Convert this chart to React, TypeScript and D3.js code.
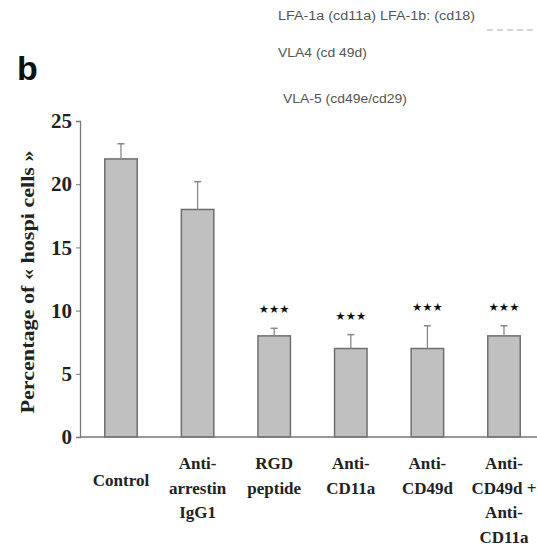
import { useEffect, useRef } from 'react';
import * as d3 from 'd3';

const categories = ['Control', 'Anti-arrestin IgG1', 'RGD peptide', 'Anti-CD11a', 'Anti-CD49d', 'Anti-CD49d + Anti-CD11a'];
const labelLines = [
  ['Control'],
  ['Anti-', 'arrestin', 'IgG1'],
  ['RGD', 'peptide'],
  ['Anti-', 'CD11a'],
  ['Anti-', 'CD49d'],
  ['Anti-', 'CD49d +', 'Anti-', 'CD11a'],
];
const values = [22, 18, 8, 7, 7, 8];
const errors = [1.2, 2.2, 0.6, 1.1, 1.8, 0.8];
const significance = ['', '', '***', '***', '***', '***'];
const yTicks = [0, 5, 10, 15, 20, 25];
const legendNotes = ['LFA-1a (cd11a) LFA-1b: (cd18)', 'VLA4 (cd 49d)', 'VLA-5 (cd49e/cd29)'];

export default function App() {
  const svgRef = useRef<SVGSVGElement>(null);

  useEffect(() => {
    if (!svgRef.current) return;
    const width = 537;
    const height = 549;
    const svg = d3.select(svgRef.current);
    svg.selectAll('*').remove();
    svg.attr('width', width).attr('height', height);

    const serif = '"Liberation Serif", "Times New Roman", serif';
    const sans = '"Liberation Sans", Arial, sans-serif';

    const x = d3
      .scaleBand<string>()
      .domain(categories)
      .range([82.7, 542.3])
      .paddingInner(0.576)
      .paddingOuter(0.288);

    const y = d3.scaleLinear().domain([0, 25]).range([437, 121]);

    // panel letter and notes at top
    svg.append('text')
      .attr('x', 17)
      .attr('y', 80)
      .attr('font-family', sans)
      .attr('font-weight', 'bold')
      .attr('font-size', 34)
      .attr('fill', '#111')
      .text('b');

    const noteX = [278, 278, 283];
    const noteY = [20, 57, 103];
    const noteW = [197, 89, 124];
    legendNotes.forEach((t, i) => {
      svg.append('text')
        .attr('x', noteX[i])
        .attr('y', noteY[i])
        .attr('font-family', sans)
        .attr('font-size', 12.5)
        .attr('fill', '#555')
        .attr('textLength', noteW[i])
        .attr('lengthAdjust', 'spacingAndGlyphs')
        .text(t);
    });

    svg.append('line')
      .attr('x1', 487).attr('x2', 533)
      .attr('y1', 30).attr('y2', 30)
      .attr('stroke', '#aaa')
      .attr('stroke-dasharray', '6,4');

    const g = svg.append('g');

    // bars
    g.selectAll('rect.bar')
      .data(categories)
      .join('rect')
      .attr('class', 'bar')
      .attr('x', (d) => x(d)!)
      .attr('width', x.bandwidth())
      .attr('y', (_, i) => y(values[i]))
      .attr('height', (_, i) => y(0) - y(values[i]))
      .attr('fill', '#c0c0c0')
      .attr('stroke', '#6e6e6e')
      .attr('stroke-width', 1.5);

    // error bars
    categories.forEach((c, i) => {
      const cx = x(c)! + x.bandwidth() / 2;
      const top = y(values[i] + errors[i]);
      g.append('line')
        .attr('x1', cx).attr('x2', cx)
        .attr('y1', y(values[i])).attr('y2', top)
        .attr('stroke', '#888')
        .attr('stroke-width', 1.3);
      g.append('line')
        .attr('x1', cx - 3.5).attr('x2', cx + 3.5)
        .attr('y1', top).attr('y2', top)
        .attr('stroke', '#888')
        .attr('stroke-width', 1.5);
      if (significance[i]) {
        g.append('text')
          .attr('x', cx)
          .attr('y', top - 15)
          .attr('text-anchor', 'middle')
          .attr('font-family', '"DejaVu Sans", sans-serif')
          .attr('font-size', 11.5)
          .attr('fill', '#111')
          .text(significance[i].replace(/\*/g, '\u2605'));
      }
    });

    // axes
    const yAxis = g.append('g')
      .attr('transform', 'translate(80,0)')
      .call(d3.axisLeft(y).tickValues(yTicks).tickSize(4).tickPadding(4));
    yAxis.select('.domain').attr('stroke', '#777').attr('stroke-width', 1.3);
    yAxis.selectAll('.tick line').attr('stroke', '#777');
    yAxis.selectAll('text')
      .attr('font-family', serif)
      .attr('font-weight', 'bold')
      .attr('font-size', 21)
      .attr('fill', '#222');

    g.append('line')
      .attr('x1', 80).attr('x2', 537)
      .attr('y1', y(0)).attr('y2', y(0))
      .attr('stroke', '#777')
      .attr('stroke-width', 1.3);

    // category labels
    categories.forEach((c, i) => {
      const cx = x(c)! + x.bandwidth() / 2;
      const lines = labelLines[i];
      const t = g.append('text')
        .attr('text-anchor', 'middle')
        .attr('font-family', serif)
        .attr('font-weight', 'bold')
        .attr('font-size', 17)
        .attr('fill', '#222');
      const y0 = lines.length === 1 ? 486 : 469;
      lines.forEach((l, j) => {
        t.append('tspan')
          .attr('x', cx)
          .attr('y', y0 + j * 24.5)
          .text(l);
      });
    });

    // y axis title
    svg.append('text')
      .attr('transform', 'translate(34,282) rotate(-90)')
      .attr('text-anchor', 'middle')
      .attr('font-family', serif)
      .attr('font-weight', 'bold')
      .attr('font-size', 18)
      .attr('textLength', 263)
      .attr('lengthAdjust', 'spacingAndGlyphs')
      .attr('fill', '#222')
      .text('Percentage of \u00ab hospi cells \u00bb');
  }, []);

  return (
    <div style={{ position: 'absolute', left: 0, top: 0, background: '#fff' }}>
      <svg ref={svgRef} style={{ display: 'block' }} />
    </div>
  );
}
